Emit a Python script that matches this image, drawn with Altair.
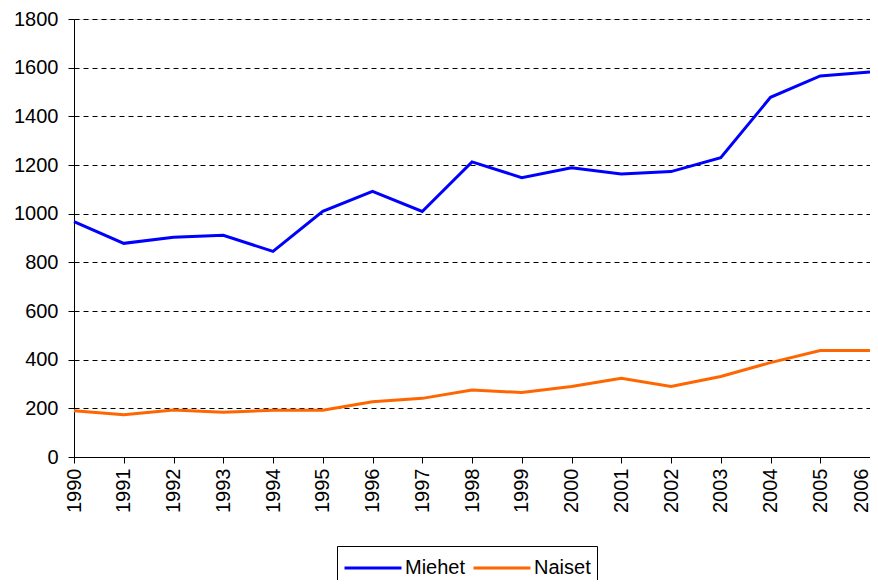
import altair as alt
import pandas as pd

years = list(range(1990, 2007))
miehet = [967, 878, 903, 911, 845, 1010, 1092, 1009, 1213, 1148, 1189, 1163, 1173, 1230, 1478, 1566, 1582]
naiset = [190, 174, 193, 184, 192, 192, 227, 241, 275, 265, 290, 324, 290, 331, 388, 438, 438]
series = ["Miehet", "Naiset"]
colors = ["#0000FF", "#FF6600"]
y_ticks = [0, 200, 400, 600, 800, 1000, 1200, 1400, 1600, 1800]

rows = []
for name, vals in zip(series, [miehet, naiset]):
    for yr, v in zip(years, vals):
        rows.append({"year": yr, "value": v, "series": name})
df = pd.DataFrame(rows)

FONT = "Liberation Sans"

chart = alt.Chart(df).mark_line(strokeWidth=3).encode(
    x=alt.X("year:Q",
            scale=alt.Scale(domain=[1990, 2006], nice=False, zero=False),
            axis=alt.Axis(values=years, format="d", labelAngle=270, title=None,
                          grid=False, tickSize=6, labelPadding=5,
                          labelOffset={"condition": {"test": "datum.value == 2006", "value": -9}, "value": 0},
                          labelFont=FONT, labelFontSize=20, labelColor="black",
                          labelOverlap=False, labelFlush=False,
                          domainColor="black", tickColor="black")),
    y=alt.Y("value:Q",
            scale=alt.Scale(domain=[0, 1800], nice=False),
            axis=alt.Axis(values=y_ticks, format="d", title=None, grid=True,
                          gridColor="black", gridDash=[5, 4], gridWidth=1, gridOpacity=1,
                          tickSize=6, labelPadding=10,
                          labelFont=FONT, labelFontSize=20, labelColor="black",
                          domainColor="black", tickColor="black")),
    color=alt.Color("series:N",
                    scale=alt.Scale(domain=series, range=colors),
                    legend=alt.Legend(orient="none", legendX=263, legendY=527,
                                      direction="horizontal", title=None,
                                      strokeColor="black", padding=6,
                                      symbolType="M-2,0L2,0", symbolSize=812,
                                      symbolOffset=14, symbolStrokeWidth=3,
                                      labelOffset=16, columnPadding=1,
                                      labelFont=FONT, labelFontSize=20,
                                      labelColor="black")),
).properties(
    width=796,
    height=438,
    autosize=alt.AutoSizeParams(type="none"),
    padding={"left": 66, "top": 11, "right": 0, "bottom": 123},
).configure_view(
    stroke="black", strokeWidth=1
).configure(background="white")

chart.save("out.html", embed_options={"renderer": "svg", "actions": False})
